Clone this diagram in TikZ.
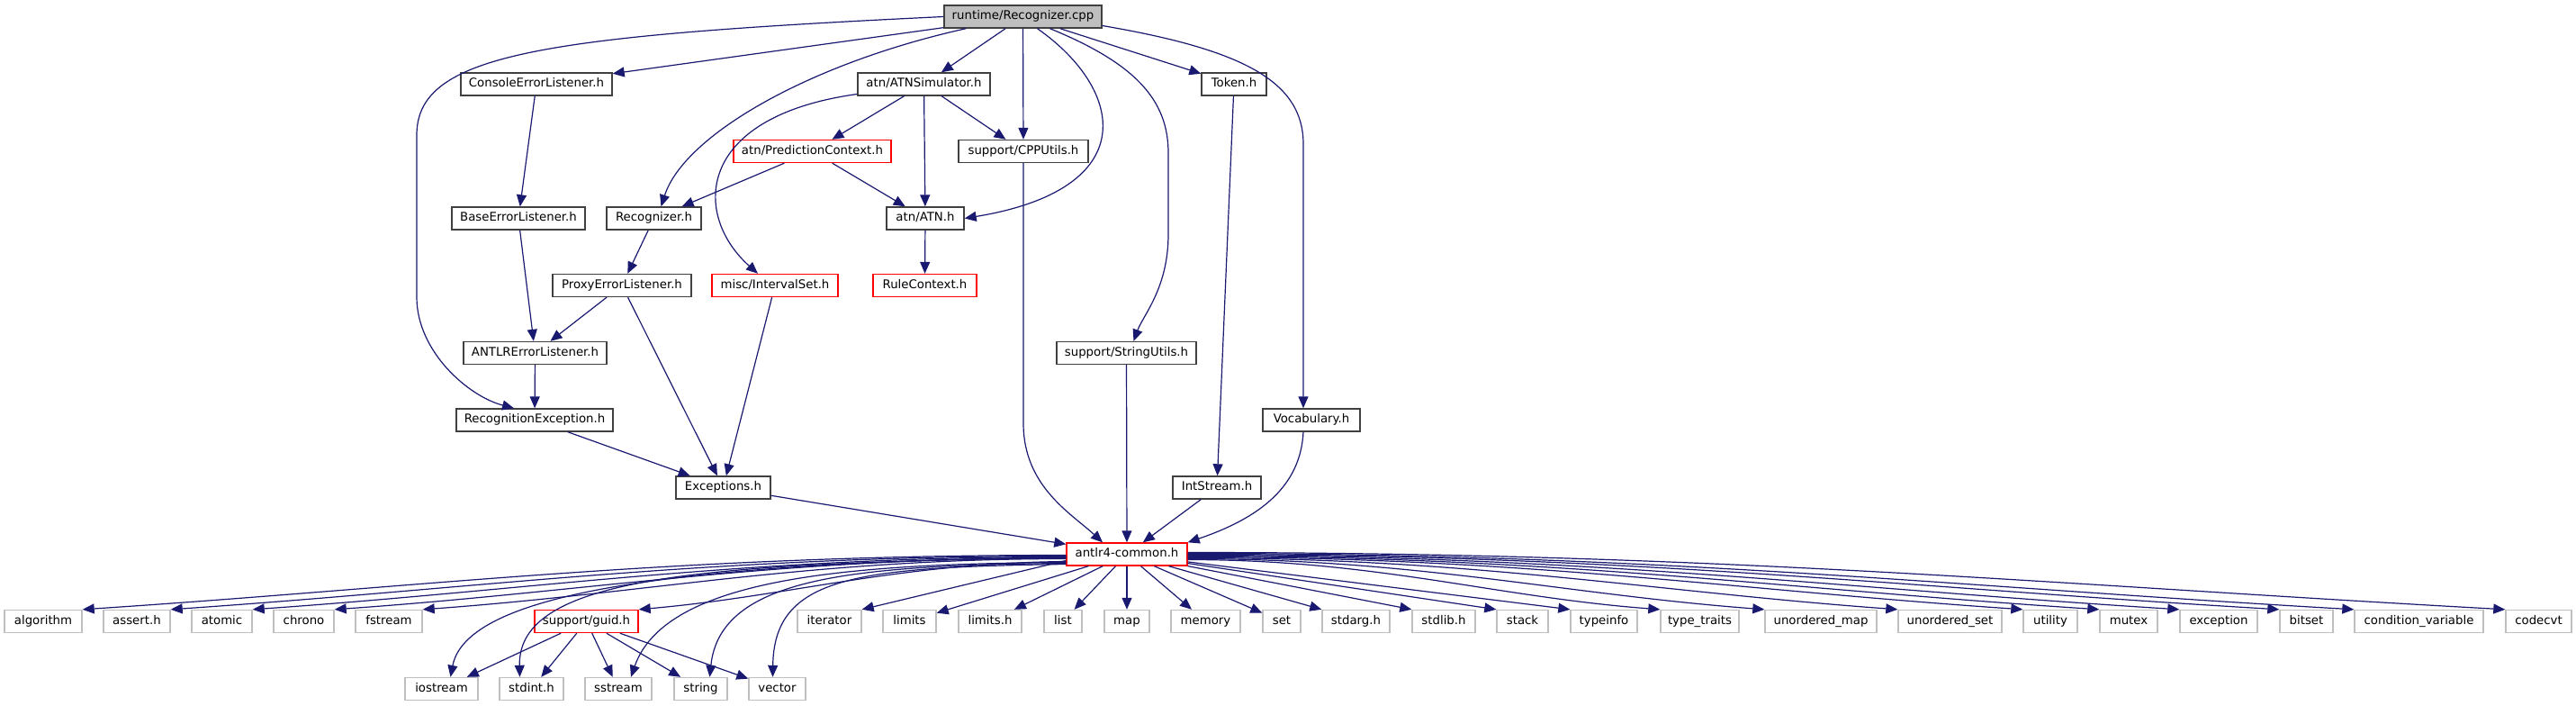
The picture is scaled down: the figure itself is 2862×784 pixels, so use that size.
\documentclass[tikz,border=0pt]{standalone}
\usepackage{fontspec}
\setmainfont{DejaVu Sans}
\usetikzlibrary{arrows.meta}
\definecolor{edgeblue}{HTML}{191970}
\definecolor{greyline}{HTML}{BFBFBF}
\definecolor{redline}{HTML}{FF0000}
\definecolor{darkline}{HTML}{404040}
\newcommand\mknode[6]{\node[#1, minimum width={(#4-#3)*1pt}] (#2) at ({(#3+#4)/2},#5) {#6};}
\begin{document}
\begin{tikzpicture}[x=1pt,y=-1pt,
  base/.style={draw, inner sep=0pt, minimum height=25pt, text height=9.5pt, text depth=2.8pt,
    font=\fontsize{13.3}{16}\selectfont, line width=1.4pt, text=black},
  dep/.style={base, draw=darkline},
  redn/.style={base, draw=redline},
  ext/.style={base, draw=greyline},
  root/.style={base, draw=darkline, fill=greyline},
  edge/.style={color=edgeblue, line width=1.2pt, -{Triangle[length=13pt,width=11pt]}}]
\useasboundingbox (0,0) rectangle (2862,784);
% main nodes
\mknode{root}{cpp}{1049}{1224}{18.5}{runtime/Recognizer.cpp}
\mknode{dep}{cel}{512}{680}{93.5}{ConsoleErrorListener.h}
\mknode{dep}{atnsim}{953}{1100}{93.5}{atn/ATNSimulator.h}
\mknode{dep}{token}{1335}{1407}{93.5}{Token.h}
\mknode{redn}{pc}{815}{990}{168}{atn/PredictionContext.h}
\mknode{dep}{cpputils}{1065}{1209}{168}{support/CPPUtils.h}
\mknode{dep}{bel}{502}{650}{242.5}{BaseErrorListener.h}
\mknode{dep}{recogh}{674}{779}{242.5}{Recognizer.h}
\mknode{dep}{atn}{985}{1071}{242.5}{atn/ATN.h}
\mknode{dep}{pel}{614}{768}{317}{ProxyErrorListener.h}
\mknode{redn}{iset}{791}{931}{317}{misc/IntervalSet.h}
\mknode{redn}{rulectx}{970}{1085}{317}{RuleContext.h}
\mknode{dep}{antlrel}{515}{674}{392}{ANTLRErrorListener.h}
\mknode{dep}{strutils}{1174}{1329}{392}{support/StringUtils.h}
\mknode{dep}{recex}{507}{681}{466.5}{RecognitionException.h}
\mknode{dep}{vocab}{1403}{1511}{466.5}{Vocabulary.h}
\mknode{dep}{exc}{751}{856}{541.5}{Exceptions.h}
\mknode{dep}{intstream}{1303}{1401}{541.5}{IntStream.h}
\mknode{redn}{common}{1185}{1319}{615.5}{antlr4-common.h}
% row 1
\mknode{ext}{algorithm}{5}{91}{690}{algorithm}
\mknode{ext}{assert}{115}{189}{690}{assert.h}
\mknode{ext}{atomic}{213}{280}{690}{atomic}
\mknode{ext}{chrono}{304}{371}{690}{chrono}
\mknode{ext}{fstream}{395}{469}{690}{fstream}
\mknode{redn}{guid}{594}{709}{690}{support/guid.h}
\mknode{ext}{iterator}{886}{957}{690}{iterator}
\mknode{ext}{limits}{981}{1040}{690}{limits}
\mknode{ext}{limitsh}{1065}{1135}{690}{limits.h}
\mknode{ext}{hlist}{1160}{1202}{690}{list}
\mknode{ext}{hmap}{1227}{1277}{690}{map}
\mknode{ext}{memory}{1301}{1378}{690}{memory}
\mknode{ext}{hset}{1403}{1445}{690}{set}
\mknode{ext}{stdarg}{1469}{1544}{690}{stdarg.h}
\mknode{ext}{stdlib}{1569}{1639}{690}{stdlib.h}
\mknode{ext}{hstack}{1663}{1720}{690}{stack}
\mknode{ext}{typeinfo}{1745}{1819}{690}{typeinfo}
\mknode{ext}{typetraits}{1845}{1932}{690}{type\_traits}
\mknode{ext}{umap}{1961}{2085}{690}{unordered\_map}
\mknode{ext}{uset}{2109}{2224}{690}{unordered\_set}
\mknode{ext}{utility}{2248}{2308}{690}{utility}
\mknode{ext}{mutex}{2333}{2397}{690}{mutex}
\mknode{ext}{hexception}{2422}{2508}{690}{exception}
\mknode{ext}{bitset}{2533}{2592}{690}{bitset}
\mknode{ext}{condvar}{2616}{2759}{690}{condition\_variable}
\mknode{ext}{codecvt}{2784}{2857}{690}{codecvt}
% row 2
\mknode{ext}{iostream}{450}{531}{765}{iostream}
\mknode{ext}{stdint}{555}{626}{765}{stdint.h}
\mknode{ext}{sstream}{650}{724}{765}{sstream}
\mknode{ext}{hstring}{749}{808}{765}{string}
\mknode{ext}{vector}{832}{895}{765}{vector}
% edges from Recognizer.cpp
\draw[edge] (cpp.west) .. controls (600,40) and (463,60) .. (463,150) -- (463,330) .. controls (463,390) and (520,440) .. ([xshift=-23pt]recex.north);
\draw[edge] (cpp) -- (cel);
\draw[edge] ([xshift=25pt]cpp.south west) .. controls (900,70) and (760,150) .. ([xshift=8pt]recogh.north);
\draw[edge] (cpp) -- (atnsim);
\draw[edge] (cpp) -- (cpputils);
\draw[edge] ([xshift=16pt]cpp.south) .. controls (1250,100) and (1270,210) .. (atn.east);
\draw[edge] ([xshift=30pt]cpp.south) .. controls (1260,70) and (1298,110) .. (1298,170) -- (1298,260) .. controls (1298,320) and (1270,350) .. ([xshift=8pt]strutils.north);
\draw[edge] (cpp) -- (token);
\draw[edge] ([yshift=-10pt]cpp.east) .. controls (1380,55) and (1448,90) .. (1448,160) -- ([xshift=-9pt]vocab.north);
% middle edges
\draw[edge] (token) -- (intstream);
\draw[edge] ([yshift=-11pt]atnsim.west) .. controls (770,130) and (770,240) .. ([xshift=-19pt]iset.north);
\draw[edge] (atnsim) -- (pc);
\draw[edge] (atnsim) -- (atn);
\draw[edge] (atnsim) -- (cpputils);
\draw[edge] (pc) -- (recogh);
\draw[edge] (pc) -- (atn);
\draw[edge] (atn) -- (rulectx);
\draw[edge] (cel) -- (bel);
\draw[edge] (bel) -- (antlrel);
\draw[edge] (recogh) -- (pel);
\draw[edge] (pel) -- (antlrel);
\draw[edge] (pel) -- (exc);
\draw[edge] (iset) -- (exc);
\draw[edge] (antlrel) -- (recex);
\draw[edge] (recex) -- (exc);
\draw[edge] (exc) -- (common);
\draw[edge] (cpputils.south) -- (1137,470) .. controls (1137,540) and (1190,570) .. ([xshift=-27pt]common.north);
\draw[edge] (strutils) -- (common);
\draw[edge] (intstream) -- (common);
\draw[edge] ([xshift=-9pt]vocab.south) .. controls (1445,540) and (1400,575) .. (common.north east);
% fan out of antlr4-common.h, left
\draw[edge] ([yshift=-1pt]common.west) .. controls +(-440,0) and +(380,-25) .. (algorithm.north east);
\draw[edge] ([yshift=-2pt]common.west) .. controls +(-400,0) and +(350,-24) .. (assert.north east);
\draw[edge] ([yshift=-3pt]common.west) .. controls +(-360,0) and +(315,-22) .. (atomic.north east);
\draw[edge] ([yshift=-4pt]common.west) .. controls +(-325,0) and +(285,-20) .. (chrono.north east);
\draw[edge] ([yshift=-5pt]common.west) .. controls +(-285,0) and +(250,-18) .. (fstream.north east);
\draw[edge] ([yshift=-8pt]common.west) .. controls +(-190,2) and +(170,-15) .. (guid.north east);
\draw[edge] ([yshift=-3pt]common.west) .. controls (800,625) and (520,650) .. ([xshift=10pt]iostream.north);
\draw[edge] ([yshift=-4pt]common.west) .. controls (780,625) and (575,640) .. ([xshift=-13pt]stdint.north);
\draw[edge] ([yshift=-9pt]common.west) .. controls (950,626) and (740,640) .. ([xshift=14pt]sstream.north);
\draw[edge] ([yshift=-10pt]common.west) .. controls (950,628) and (800,640) .. ([xshift=10pt]hstring.north);
\draw[edge] ([yshift=-11pt]common.west) .. controls (950,630) and (860,640) .. ([xshift=-5pt]vector.north);
\draw[edge] ([yshift=-7pt]common.west) -- (iterator.north east);
% middle
\draw[edge] (common) -- (limits);
\draw[edge] (common) -- (limitsh);
\draw[edge] (common) -- (hlist);
\draw[edge] (common) -- (hmap);
\draw[edge] (common) -- (memory);
\draw[edge] (common) -- (hset);
\draw[edge] (common) -- (stdarg.north west);
\draw[edge] (common) -- (stdlib.north west);
\draw[edge] (common) -- (hstack.north west);
\draw[edge] (common) -- (typeinfo.north west);
% right
\draw[edge] ([yshift=-6pt]common.east) .. controls +(210,0) and +(-185,-14) .. (typetraits.north west);
\draw[edge] ([yshift=-5pt]common.east) .. controls +(255,0) and +(-225,-17) .. (umap.north west);
\draw[edge] ([yshift=-4pt]common.east) .. controls +(315,0) and +(-275,-20) .. (uset.north west);
\draw[edge] ([yshift=-3pt]common.east) .. controls +(370,0) and +(-325,-22) .. (utility.north west);
\draw[edge] ([yshift=-2pt]common.east) .. controls +(405,0) and +(-355,-23) .. (mutex.north west);
\draw[edge] ([yshift=-1pt]common.east) .. controls +(440,0) and +(-385,-24) .. (hexception.north west);
\draw[edge] ([yshift=0pt]common.east) .. controls +(485,0) and +(-425,-25) .. (bitset.north west);
\draw[edge] ([yshift=1pt]common.east) .. controls +(520,0) and +(-455,-26) .. (condvar.north west);
\draw[edge] ([yshift=2pt]common.east) .. controls +(585,0) and +(-510,-28) .. (codecvt.north west);
% guid children
\draw[edge] (guid) -- (iostream);
\draw[edge] (guid) -- (stdint);
\draw[edge] (guid) -- (sstream);
\draw[edge] (guid) -- (hstring);
\draw[edge] (guid) -- (vector);
\end{tikzpicture}
\end{document}
